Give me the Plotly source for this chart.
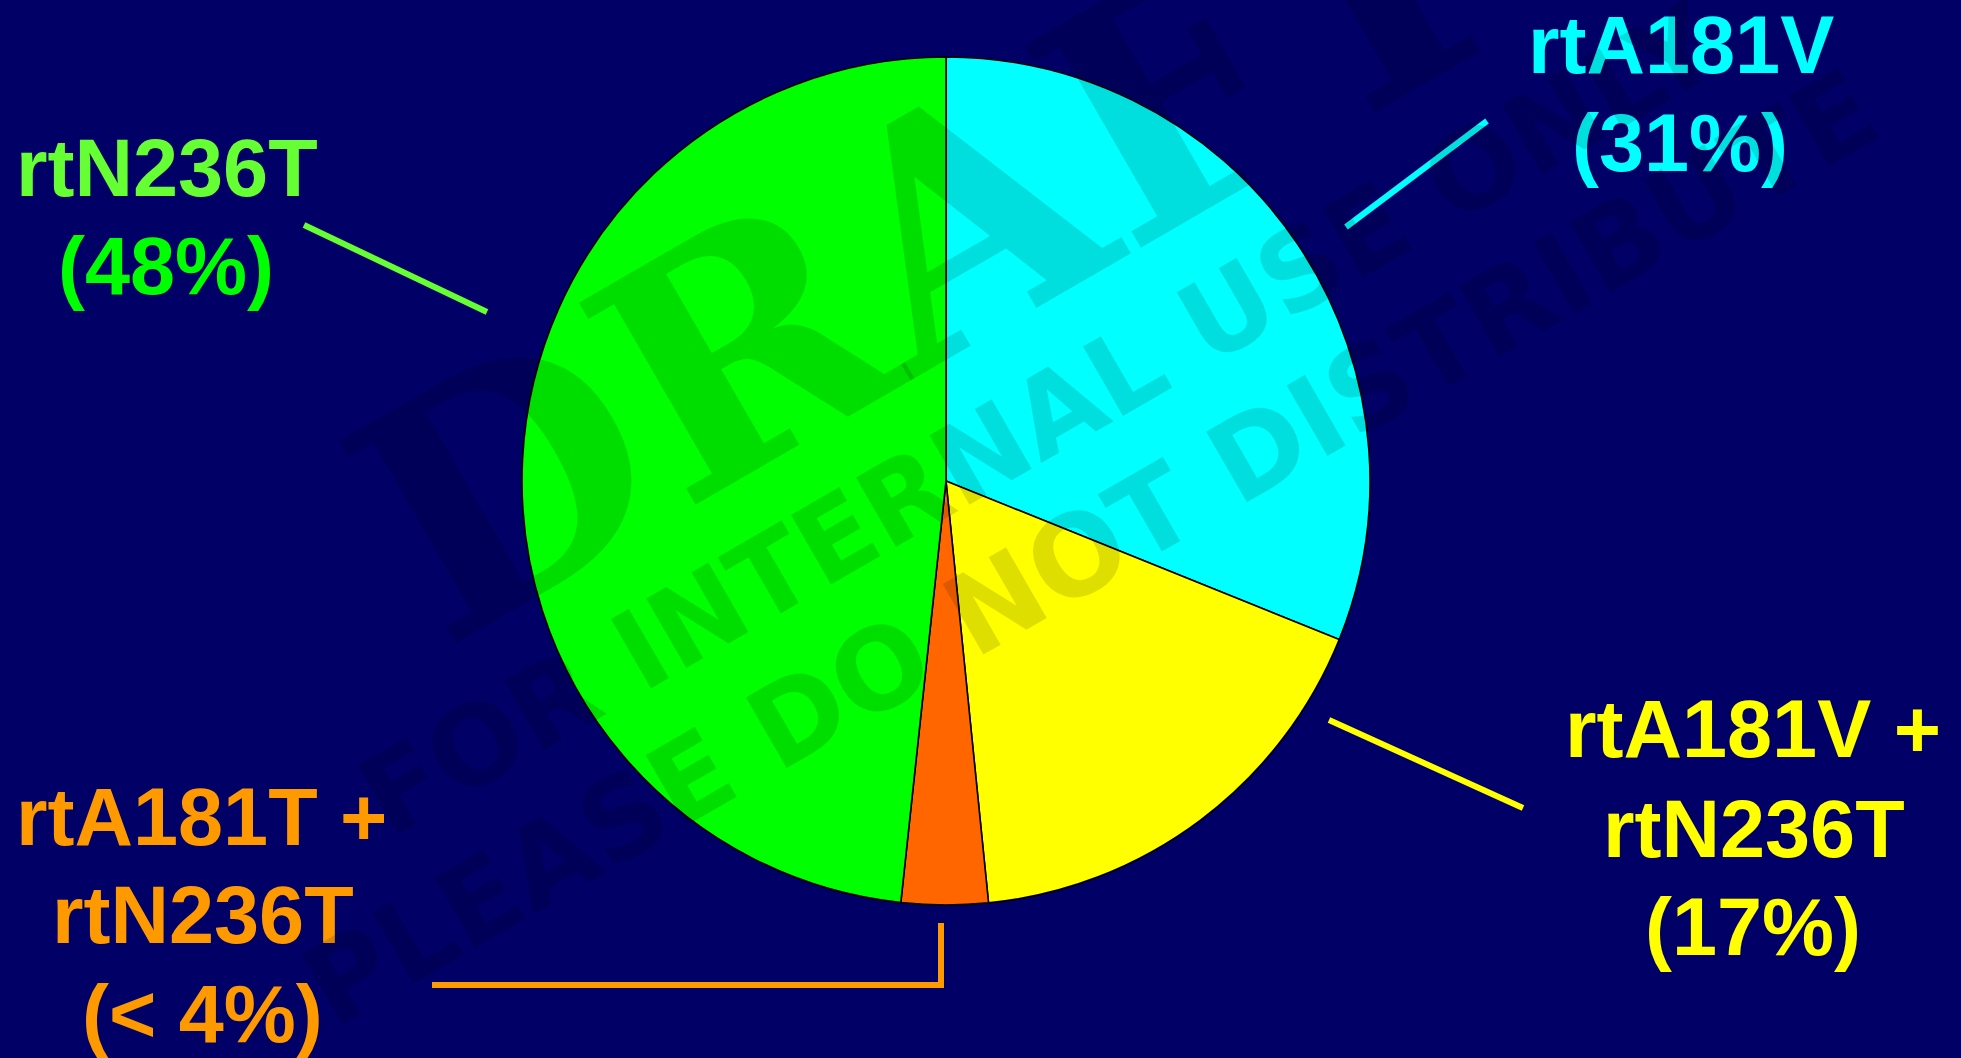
import plotly.graph_objects as go

# ---------------- data ----------------
categories = ["rtA181V", "rtA181V + rtN236T", "rtA181T + rtN236T", "rtN236T"]
shares = [31.1, 17.3, 3.3, 48.3]
slice_colors = ["#00FFFF", "#FFFF00", "#FF6600", "#00FF00"]

label_lines = [
    ["rtA181V", "(31%)"],
    ["rtA181V +", "rtN236T", "(17%)"],
    ["rtA181T +", "rtN236T", "(< 4%)"],
    ["rtN236T", "(48%)"],
]
label_colors = [
    ["#00FFFF", "#00FFFF"],
    ["#FFFF00", "#FFFF00", "#FFFF00"],
    ["#FF9900", "#FF9900", "#FF9900"],
    ["#66FF33", "#00FF00"],
]
leader_colors = ["#00FFFF", "#FFFF00", "#FF9900", "#66FF33"]

watermark_lines = ["DRAFT", "FOR INTERNAL USE ONLY", "PLEASE DO NOT DISTRIBUTE"]

# ---------------- layout (pixels) ----------------
W, H = 1961, 1058
BG = "#000066"
CX, CY, R = 946, 481, 424

def px(x, y):
    return x / W, 1 - y / H

# label line centres (x, y of text box centre) per slice
label_pos = [
    [(1681, 45), (1680, 143)],
    [(1753, 729), (1754, 829), (1753, 927)],
    [(201, 817), (203, 915), (202, 1014)],
    [(167, 168), (166, 266)],
]
LABEL_SIZE = 81

fig = go.Figure()
fig.add_trace(go.Pie(
    labels=categories,
    values=shares,
    marker=dict(colors=slice_colors, line=dict(color="#000000", width=1.6)),
    sort=False,
    direction="clockwise",
    rotation=0,
    textinfo="none",
    hoverinfo="label+percent",
    showlegend=False,
    domain=dict(x=[(CX - R) / W, (CX + R) / W],
                y=[(H - CY - R) / H, (H - CY + R) / H]),
))

annotations = []
for lines, cols, poss in zip(label_lines, label_colors, label_pos):
    for txt, col, (x, y) in zip(lines, cols, poss):
        ax, ay = px(x, y)
        annotations.append(dict(
            text=txt, x=ax, y=ay, xref="paper", yref="paper",
            xanchor="center", yanchor="middle", showarrow=False,
            font=dict(family="Liberation Sans, Arial, sans-serif", size=LABEL_SIZE,
                      color=col, weight="bold"),
        ))

# watermark
wm_specs = [
    (watermark_lines[0], (930, 240), 320, "DejaVu Serif, serif"),
    (watermark_lines[1], (1040, 420), 110, "DejaVu Sans, sans-serif"),
    (watermark_lines[2], (1090, 548), 112, "DejaVu Sans, sans-serif"),
]
for txt, (x, y), size, fam in wm_specs:
    ax, ay = px(x, y)
    annotations.append(dict(
        text=txt, x=ax, y=ay, xref="paper", yref="paper",
        xanchor="center", yanchor="middle", showarrow=False, textangle=-30,
        font=dict(family=fam, size=size, color="rgba(0,0,0,0.13)", weight="bold"),
    ))

# leader lines
def seg(x0, y0, x1, y1, color, width=6):
    a0, b0 = px(x0, y0)
    a1, b1 = px(x1, y1)
    return dict(type="line", xref="paper", yref="paper", x0=a0, y0=b0, x1=a1, y1=b1,
                line=dict(color=color, width=width), layer="above")

shapes = [
    seg(1346, 227, 1487, 121, leader_colors[0]),
    seg(1329, 720, 1523, 808, leader_colors[1]),
    seg(304, 225, 487, 312, leader_colors[3]),
]
bx0, by0 = px(941, 923)
bx1, by1 = px(941, 985)
bx2, by2 = px(432, 985)
shapes.append(dict(type="path", xref="paper", yref="paper",
                   path=f"M {bx0} {by0} L {bx1} {by1} L {bx2} {by2}",
                   line=dict(color=leader_colors[2], width=6), layer="above"))

fig.update_layout(
    width=W, height=H,
    margin=dict(l=0, r=0, t=0, b=0),
    paper_bgcolor=BG, plot_bgcolor=BG,
    annotations=annotations,
    shapes=shapes,
)

fig.write_html("out.html", config={"displayModeBar": False},
               post_script="document.body.style.margin='0';document.body.style.background='#000066';")
